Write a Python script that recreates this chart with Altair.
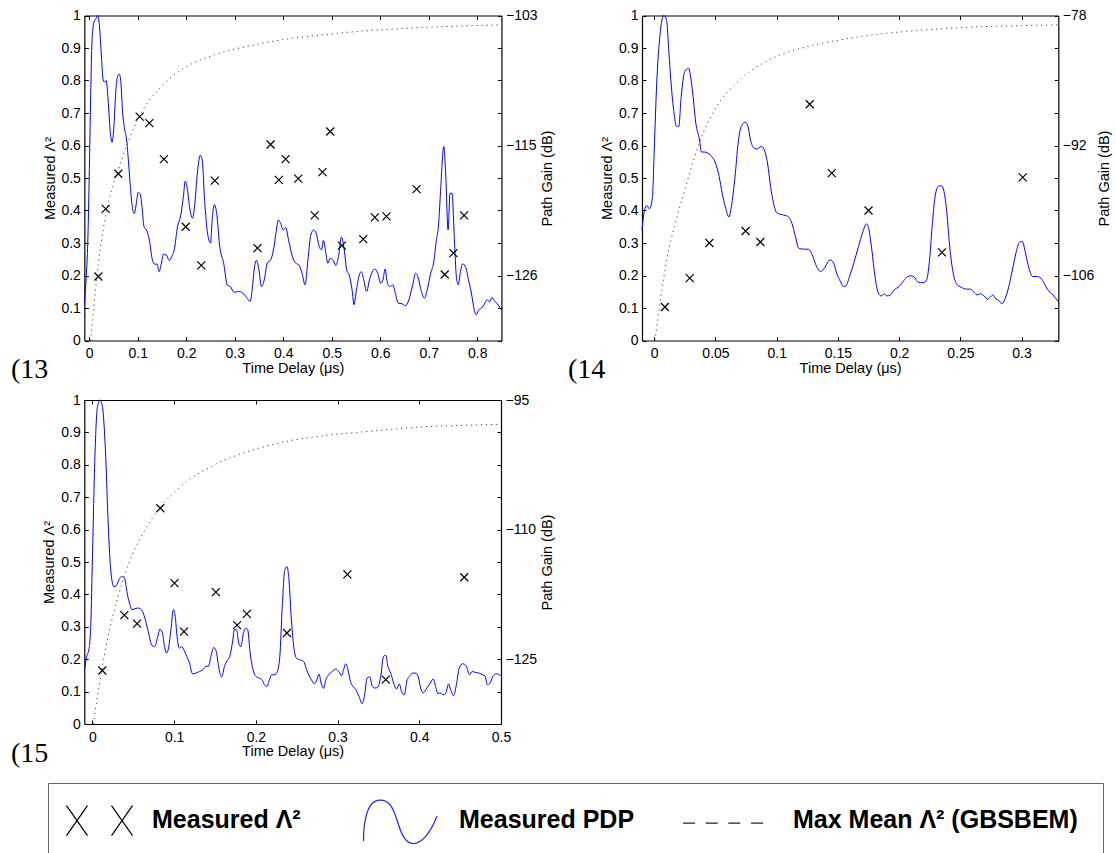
import altair as alt
import pandas as pd

W, H = 1116, 853
FONT = "Liberation Sans"
BLUE = "#0000ff"

# ---------------- data: panel (13) ----------------
p13_pdp_t = [-0.01, -0.006, -0.003, 0.0, 0.003, 0.006, 0.01, 0.014, 0.018, 0.021,
             0.025, 0.028, 0.031, 0.035, 0.039, 0.043, 0.047, 0.051, 0.055, 0.059,
             0.062, 0.065, 0.069, 0.073, 0.077, 0.081, 0.085, 0.089, 0.093, 0.097,
             0.101, 0.105, 0.109, 0.113, 0.118, 0.124, 0.13, 0.135, 0.14, 0.144,
             0.149, 0.153, 0.159, 0.165, 0.17, 0.176, 0.182, 0.188, 0.194, 0.198,
             0.202, 0.207, 0.213, 0.217, 0.223, 0.229, 0.233, 0.238, 0.244, 0.25,
             0.254, 0.258, 0.263, 0.269, 0.277, 0.285, 0.291, 0.299, 0.308, 0.317,
             0.324, 0.332, 0.336, 0.341, 0.345, 0.35, 0.355, 0.361, 0.367, 0.374,
             0.38, 0.385, 0.39, 0.395, 0.4, 0.405, 0.411, 0.419, 0.426, 0.432,
             0.439, 0.445, 0.451, 0.457, 0.463, 0.468, 0.474, 0.479, 0.483, 0.488,
             0.492, 0.497, 0.503, 0.508, 0.514, 0.52, 0.525, 0.531, 0.536, 0.542,
             0.546, 0.551, 0.557, 0.561, 0.566, 0.572, 0.578, 0.583, 0.589, 0.595,
             0.601, 0.606, 0.61, 0.615, 0.62, 0.626, 0.632, 0.637, 0.645, 0.652,
             0.659, 0.667, 0.673, 0.678, 0.684, 0.691, 0.697, 0.704, 0.71, 0.716,
             0.72, 0.725, 0.731, 0.735, 0.74, 0.744, 0.748, 0.753, 0.757, 0.761,
             0.765, 0.77, 0.777, 0.782, 0.788, 0.794, 0.798, 0.803, 0.809, 0.814,
             0.82, 0.826, 0.83, 0.837, 0.843, 0.85]
p13_pdp_v = [0.11, 0.2, 0.3, 0.5, 0.75, 0.93, 0.98, 0.99, 1.0, 0.97,
             0.88, 0.81, 0.795, 0.8, 0.74, 0.65, 0.61, 0.66, 0.77, 0.815,
             0.82, 0.8, 0.7, 0.65, 0.62, 0.55, 0.47, 0.41, 0.39, 0.42,
             0.456, 0.45, 0.41, 0.35, 0.34, 0.31, 0.25, 0.235, 0.235, 0.212,
             0.238, 0.265, 0.263, 0.246, 0.258, 0.284, 0.35, 0.38, 0.44, 0.49,
             0.47, 0.41, 0.376, 0.41, 0.515, 0.57, 0.556, 0.43, 0.33, 0.3,
             0.38, 0.418, 0.39, 0.29, 0.24, 0.17, 0.166, 0.148, 0.151, 0.146,
             0.133, 0.12, 0.156, 0.228, 0.246, 0.217, 0.166, 0.187, 0.238, 0.248,
             0.279, 0.33, 0.371, 0.359, 0.34, 0.348, 0.31, 0.258, 0.238, 0.233,
             0.207, 0.171, 0.248, 0.325, 0.34, 0.33, 0.29, 0.279, 0.308, 0.269,
             0.238, 0.253, 0.248, 0.231, 0.258, 0.318, 0.289, 0.217, 0.202, 0.156,
             0.11, 0.156, 0.202, 0.212, 0.187, 0.151, 0.187, 0.21, 0.22, 0.207,
             0.176, 0.189, 0.22, 0.176, 0.166, 0.171, 0.141, 0.115, 0.113, 0.107,
             0.125, 0.171, 0.207, 0.195, 0.156, 0.13, 0.156, 0.207, 0.238, 0.31,
             0.35, 0.474, 0.597, 0.515, 0.34, 0.453, 0.453, 0.31, 0.197, 0.171,
             0.207, 0.236, 0.222, 0.187, 0.146, 0.094, 0.079, 0.094, 0.1, 0.11,
             0.125, 0.12, 0.132, 0.12, 0.11, 0.094]
p13_x_t = [0.019, 0.034, 0.060, 0.104, 0.124, 0.154, 0.199, 0.231, 0.259, 0.347,
           0.374, 0.391, 0.405, 0.431, 0.465, 0.481, 0.497, 0.521, 0.565, 0.589,
           0.613, 0.675, 0.733, 0.751, 0.773]
p13_x_v = [0.197, 0.405, 0.513, 0.689, 0.669, 0.558, 0.35, 0.231, 0.492, 0.284,
           0.603, 0.494, 0.558, 0.498, 0.385, 0.518, 0.643, 0.292, 0.312, 0.379,
           0.382, 0.466, 0.203, 0.269, 0.385]
p13_max_t = [0.003, 0.019, 0.0375, 0.06, 0.082, 0.111, 0.148, 0.185, 0.258, 0.332,
             0.405, 0.479, 0.553, 0.626, 0.7, 0.773, 0.85]
p13_max_v = [0.0, 0.238, 0.41, 0.525, 0.617, 0.71, 0.78, 0.828, 0.879, 0.907,
             0.927, 0.94, 0.951, 0.958, 0.964, 0.968, 0.971]
p13_xticks = [0, 0.1, 0.2, 0.3, 0.4, 0.5, 0.6, 0.7, 0.8]
p13_rvals = [1.0, 0.6, 0.2]
p13_rlabels = ["\u2212103", "\u2212115", "\u2212126"]

# ---------------- data: panel (14) ----------------
p14_pdp_t = [-0.01, -0.008, -0.006, -0.004, -0.0015, 0.0, 0.002, 0.0043, 0.0078, 0.010,
             0.012, 0.014, 0.0165, 0.018, 0.020, 0.022, 0.025, 0.028, 0.031, 0.034,
             0.037, 0.0385, 0.041, 0.044, 0.047, 0.050, 0.053, 0.0555, 0.058, 0.061,
             0.063, 0.066, 0.0685, 0.071, 0.0743, 0.0766, 0.0786, 0.0815, 0.084, 0.0873,
             0.0896, 0.0925, 0.095, 0.0974, 0.1003, 0.1046, 0.109, 0.1124, 0.1153, 0.118,
             0.122, 0.126, 0.129, 0.132, 0.136, 0.139, 0.1436, 0.1465, 0.149, 0.152,
             0.1546, 0.1566, 0.1595, 0.163, 0.1668, 0.170, 0.1734, 0.1754, 0.1777, 0.1803,
             0.183, 0.1855, 0.188, 0.190, 0.1928, 0.196, 0.200, 0.2038, 0.207, 0.210,
             0.2125, 0.2147, 0.2173, 0.220, 0.2225, 0.2246, 0.227, 0.229, 0.232, 0.2347,
             0.2367, 0.239, 0.2413, 0.2442, 0.247, 0.2506, 0.255, 0.2578, 0.2607, 0.2636,
             0.2665, 0.2694, 0.2723, 0.2743, 0.2766, 0.2789, 0.2815, 0.2838, 0.2867, 0.2896,
             0.2925, 0.2954, 0.2983, 0.3006, 0.3032, 0.306, 0.309, 0.313, 0.3158, 0.3185,
             0.3214, 0.3257, 0.330]
p14_pdp_v = [0.34, 0.40, 0.415, 0.405, 0.44, 0.587, 0.79, 0.925, 1.0, 0.987,
             0.884, 0.78, 0.69, 0.66, 0.658, 0.75, 0.828, 0.838, 0.776, 0.668,
             0.617, 0.58, 0.58, 0.576, 0.566, 0.546, 0.505, 0.453, 0.412, 0.38,
             0.412, 0.505, 0.607, 0.658, 0.672, 0.658, 0.617, 0.592, 0.589, 0.597,
             0.589, 0.546, 0.474, 0.423, 0.392, 0.387, 0.382, 0.361, 0.32, 0.284,
             0.281, 0.281, 0.264, 0.233, 0.212, 0.223, 0.248, 0.238, 0.207, 0.182,
             0.166, 0.168, 0.197, 0.238, 0.289, 0.33, 0.359, 0.34, 0.279, 0.197,
             0.146, 0.137, 0.144, 0.137, 0.14, 0.156, 0.166, 0.184, 0.197, 0.199,
             0.195, 0.182, 0.178, 0.178, 0.187, 0.238, 0.351, 0.433, 0.474, 0.476,
             0.458, 0.392, 0.289, 0.207, 0.174, 0.164, 0.158, 0.158, 0.151, 0.14,
             0.144, 0.137, 0.127, 0.133, 0.14, 0.128, 0.123, 0.113, 0.13, 0.166,
             0.217, 0.269, 0.302, 0.305, 0.269, 0.223, 0.197, 0.197, 0.192, 0.176,
             0.156, 0.14, 0.12]
p14_x_t = [0.0087, 0.029, 0.045, 0.0746, 0.0867, 0.127, 0.145, 0.175, 0.235, 0.301]
p14_x_v = [0.103, 0.192, 0.300, 0.337, 0.303, 0.727, 0.515, 0.400, 0.271, 0.502]
p14_max_t = [0.0006, 0.005, 0.0107, 0.0165, 0.025, 0.0367, 0.051, 0.0685, 0.097, 0.126,
             0.155, 0.184, 0.213, 0.242, 0.271, 0.300, 0.329]
p14_max_v = [0.0, 0.125, 0.258, 0.351, 0.464, 0.607, 0.72, 0.797, 0.869, 0.905,
             0.927, 0.943, 0.953, 0.961, 0.966, 0.969, 0.971]
p14_xticks = [0, 0.05, 0.1, 0.15, 0.2, 0.25, 0.3]
p14_rvals = [1.0, 0.6, 0.2]
p14_rlabels = ["\u221278", "\u221292", "\u2212106"]

# ---------------- data: panel (15) ----------------
p15_pdp_t = [-0.0096, -0.007, -0.0044, -0.002, 0.0, 0.003, 0.0061, 0.0096, 0.0127, 0.0162,
             0.0192, 0.0227, 0.0262, 0.0293, 0.0323, 0.0358, 0.0393, 0.0424, 0.0454, 0.048,
             0.0511, 0.0555, 0.0598, 0.0642, 0.0686, 0.0729, 0.076, 0.0795, 0.0825, 0.0856,
             0.0882, 0.0908, 0.0934, 0.096, 0.0991, 0.1013, 0.1035, 0.1066, 0.1092, 0.1122,
             0.1153, 0.1188, 0.1223, 0.1266, 0.131, 0.1354, 0.1389, 0.1419, 0.145, 0.1485,
             0.1515, 0.155, 0.1581, 0.1616, 0.165, 0.1681, 0.1712, 0.1738, 0.1764, 0.179,
             0.1817, 0.1843, 0.1878, 0.19, 0.193, 0.1965, 0.2, 0.204, 0.2074, 0.2105,
             0.2135, 0.2166, 0.2192, 0.2227, 0.2262, 0.2293, 0.2323, 0.2354, 0.238, 0.2402,
             0.2432, 0.2463, 0.2498, 0.2541, 0.2585, 0.262, 0.2655, 0.269, 0.2716, 0.2747,
             0.2773, 0.2799, 0.283, 0.2856, 0.2891, 0.2934, 0.2978, 0.3013, 0.3048, 0.3074,
             0.31, 0.3127, 0.3153, 0.3188, 0.3223, 0.3262, 0.3301, 0.3328, 0.3362, 0.3393,
             0.3424, 0.3459, 0.3493, 0.3528, 0.3563, 0.359, 0.3616, 0.3651, 0.3686, 0.3721,
             0.3755, 0.3782, 0.3817, 0.3852, 0.3882, 0.3917, 0.3961, 0.3991, 0.4017, 0.4048,
             0.4092, 0.4135, 0.417, 0.42, 0.4227, 0.4262, 0.4288, 0.4323, 0.4358, 0.4384,
             0.4419, 0.4454, 0.4489, 0.4533, 0.4576, 0.4616, 0.4646, 0.469, 0.4734, 0.4769,
             0.4803, 0.4834, 0.4865, 0.49, 0.4943, 0.5]
p15_pdp_v = [0.168, 0.209, 0.229, 0.311, 0.517, 0.825, 0.98, 1.0, 0.969, 0.825,
             0.62, 0.466, 0.424, 0.427, 0.445, 0.455, 0.45, 0.404, 0.373, 0.353,
             0.355, 0.358, 0.353, 0.327, 0.281, 0.242, 0.239, 0.265, 0.293, 0.281,
             0.239, 0.219, 0.239, 0.291, 0.353, 0.332, 0.27, 0.234, 0.239, 0.227,
             0.209, 0.188, 0.155, 0.157, 0.162, 0.168, 0.178, 0.178, 0.209, 0.236,
             0.224, 0.168, 0.145, 0.178, 0.196, 0.209, 0.25, 0.291, 0.291, 0.25,
             0.239, 0.275, 0.296, 0.291, 0.219, 0.168, 0.147, 0.142, 0.137, 0.121,
             0.116, 0.137, 0.152, 0.152, 0.162, 0.209, 0.363, 0.476, 0.486, 0.455,
             0.332, 0.239, 0.203, 0.198, 0.193, 0.168, 0.147, 0.132, 0.124, 0.137,
             0.154, 0.126, 0.11, 0.137, 0.152, 0.162, 0.17, 0.162, 0.149, 0.168,
             0.186, 0.168, 0.135, 0.116, 0.106, 0.085, 0.063, 0.085, 0.142, 0.145,
             0.118, 0.111, 0.114, 0.147, 0.209, 0.212, 0.178, 0.157, 0.126, 0.108,
             0.123, 0.101, 0.09, 0.137, 0.147, 0.157, 0.157, 0.142, 0.111, 0.096,
             0.111, 0.126, 0.139, 0.116, 0.094, 0.096, 0.09, 0.094, 0.124, 0.106,
             0.087, 0.121, 0.173, 0.186, 0.178, 0.152, 0.162, 0.159, 0.157, 0.152,
             0.149, 0.121, 0.126, 0.147, 0.155, 0.149]
p15_x_t = [0.012, 0.039, 0.0546, 0.083, 0.1004, 0.112, 0.151, 0.177, 0.189, 0.238,
           0.312, 0.359, 0.455]
p15_x_v = [0.165, 0.336, 0.31, 0.666, 0.435, 0.285, 0.407, 0.305, 0.34, 0.281,
           0.462, 0.137, 0.453]
p15_max_t = [0.001, 0.0074, 0.0183, 0.0314, 0.0445, 0.062, 0.0838, 0.1057, 0.1493, 0.193,
             0.2367, 0.2803, 0.324, 0.3677, 0.4114, 0.455, 0.4965]
p15_max_v = [0.0, 0.106, 0.26, 0.394, 0.496, 0.589, 0.671, 0.728, 0.8, 0.843,
             0.872, 0.889, 0.9, 0.91, 0.918, 0.922, 0.925]
p15_xticks = [0, 0.1, 0.2, 0.3, 0.4, 0.5]
p15_rvals = [1.0, 0.6, 0.2]
p15_rlabels = ["\u221295", "\u2212110", "\u2212125"]

y_ticks = [0, 0.1, 0.2, 0.3, 0.4, 0.5, 0.6, 0.7, 0.8, 0.9, 1]
panel_tags = ["(13", "(14", "(15"]
legend_names = ["Measured \u039b\u00b2", "Measured PDP", "Max Mean \u039b\u00b2 (GBSBEM)"]
legend_colors = ["#000000", "#2424e0", "#222222"]

# ---------------- styling / layout ----------------
CROSS = "M-1,-1L1,1M-1,1L1,-1"
# invisible zero-length anchors give every legend symbol the same vertical extent
V_ANCHOR = "M0,-2.5L0,-2.5M0,2.5L0,2.5"
LEG_X = (V_ANCHOR + "M-1.85,-1.45L0.25,1.55M0.25,-1.45L-1.85,1.55"
         "M2.65,-1.45L4.75,1.55M4.75,-1.45L2.65,1.55")
LEG_PDP = (V_ANCHOR + "M-4.2,0L-4.2,0"
           "M-2.85,2.1C-2.85,0.5 -2.6,-2.0 -1.2,-2.0C-0.2,-2.0 0.1,-1.2 0.5,0.0"
           "C0.9,1.3 1.3,2.35 2.1,2.35C3.0,2.35 3.9,1.2 4.5,-0.4")
LEG_DASH = (V_ANCHOR + "M-4.3,0.3L-3.1,0.3M-2.03,0.3L-0.83,0.3M0.23,0.3L1.43,0.3"
            "M2.5,0.3L3.7,0.3")

COMMON = dict(grid=False, labelFont=FONT, labelFontSize=14, labelColor="black",
              titleFont=FONT, titleFontSize=14.5, titleFontWeight="normal",
              titleColor="black", domainColor="black", domainWidth=1.2,
              tickColor="black", tickWidth=1, labelFlush=False, labelOverlap=False)


def right_expr(vals, labs):
    expr = "''"
    for v, l in reversed(list(zip(vals, labs))):
        expr = f"abs(datum.value - {v}) < 1e-6 ? '{l}' : ({expr})"
    return expr


def panel(pdp_t, pdp_v, x_t, x_v, max_t, max_v, xdom, xticks, rvals, rlabs, box):
    xl, xr, yt, yb = box
    xs = alt.Scale(domain=xdom, range=[xl, xr], nice=False, zero=False)
    ys = alt.Scale(domain=[0, 1], range=[yb, yt], nice=False, zero=False)

    pdp_df = pd.DataFrame({"t": pdp_t, "v": pdp_v})
    x_df = pd.DataFrame({"t": x_t, "v": x_v})
    max_df = pd.DataFrame({"t": max_t, "v": max_v})

    ax_bottom = alt.Axis(orient="bottom", offset=yb - H, values=xticks, format="~g",
                         ticks=False, tickSize=0, domain=True, labelPadding=17,
                         labelBaseline="alphabetic", title="Time Delay (\u03bcs)",
                         titleY=31.5, titleBaseline="alphabetic", **COMMON)
    ax_left = alt.Axis(orient="left", offset=-xl, values=y_ticks, format="~g",
                       ticks=False, tickSize=0, domain=True, labelPadding=4,
                       title="Measured \u039b\u00b2", titleAngle=270, titleX=-34.35,
                       titleBaseline="middle", titleAlign="center", **COMMON)
    line = alt.Chart(pdp_df).mark_line(color=BLUE, strokeWidth=1, interpolate="monotone").encode(
        x=alt.X("t:Q", scale=xs, axis=ax_bottom),
        y=alt.Y("v:Q", scale=ys, axis=ax_left))

    ax_top = alt.Axis(orient="top", offset=-yt, values=xticks, labels=False, ticks=False,
                      tickSize=0, domain=True, title=None, **COMMON)
    ax_right = alt.Axis(orient="right", offset=xr - W, values=y_ticks,
                        labelExpr=right_expr(rvals, rlabs), ticks=False, tickSize=0,
                        domain=True, labelPadding=4, title="Path Gain (dB)", titleAngle=270,
                        titleX=46.5, titleBaseline="middle", titleAlign="center", **COMMON)
    crosses = alt.Chart(x_df).mark_point(shape=CROSS, size=64, filled=False, color="black",
                                          strokeWidth=1.2, opacity=1).encode(
        x=alt.X("t:Q", scale=xs, axis=ax_top),
        y=alt.Y("v:Q", scale=ys, axis=ax_right))

    ax_top_in = alt.Axis(orient="bottom", offset=yt - H, values=xticks, labels=False,
                         ticks=True, tickSize=4, domain=False, title=None, **COMMON)
    ax_left_in = alt.Axis(orient="right", offset=xl - W, values=y_ticks, labels=False,
                          ticks=True, tickSize=4, domain=False, title=None, **COMMON)
    dotted = alt.Chart(max_df).mark_line(color="#444444", strokeWidth=1, strokeDash=[1.2, 3.8],
                                         interpolate="monotone").encode(
        x=alt.X("t:Q", scale=xs, axis=ax_top_in),
        y=alt.Y("v:Q", scale=ys, axis=ax_left_in))

    ax_bot_in = alt.Axis(orient="top", offset=-yb, values=xticks, labels=False,
                         ticks=True, tickSize=4, domain=False, title=None, **COMMON)
    ax_right_in = alt.Axis(orient="left", offset=-xr, values=y_ticks, labels=False,
                           ticks=True, tickSize=4, domain=False, title=None, **COMMON)
    ghost = alt.Chart(x_df).mark_point(opacity=0).encode(
        x=alt.X("t:Q", scale=xs, axis=ax_bot_in),
        y=alt.Y("v:Q", scale=ys, axis=ax_right_in))

    return [line, dotted, crosses, ghost]


def tag_layer(text, px, py):
    df = pd.DataFrame({"tag": [text]})
    return alt.Chart(df).mark_text(font="Liberation Serif", fontSize=28, align="left",
                                   baseline="alphabetic", color="black").encode(
        text="tag:N", x=alt.value(px), y=alt.value(py))


layers = []
layers += panel(p13_pdp_t, p13_pdp_v, p13_x_t, p13_x_v, p13_max_t, p13_max_v,
                [-0.01, 0.85], p13_xticks, p13_rvals, p13_rlabels, (84.35, 501.45, 15.5, 340.5))
layers += panel(p14_pdp_t, p14_pdp_v, p14_x_t, p14_x_v, p14_max_t, p14_max_v,
                [-0.01, 0.33], p14_xticks, p14_rvals, p14_rlabels, (642.0, 1058.3, 15.5, 340.5))
layers += panel(p15_pdp_t, p15_pdp_v, p15_x_t, p15_x_v, p15_max_t, p15_max_v,
                [-0.01, 0.5], p15_xticks, p15_rvals, p15_rlabels, (84.3, 501.0, 400.0, 724.0))

layers.append(tag_layer(panel_tags[0], 11, 378))
layers.append(tag_layer(panel_tags[1], 568, 378))
layers.append(tag_layer(panel_tags[2], 11, 762))

leg = alt.Legend(title=None, orient="none", legendX=48, legendY=783, direction="horizontal",
                 columns=3, padding=24.5, strokeColor="#666666", fillColor="white",
                 cornerRadius=0, symbolSize=400, symbolStrokeWidth=1.2,
                 symbolFillColor="transparent", symbolOpacity=1,
                 labelFont=FONT, labelFontSize=25, labelFontWeight="bold", labelColor="black",
                 labelOffset=54.5, columnPadding=46, labelLimit=600)
leg_df = pd.DataFrame({"series": legend_names})
legend_layer = alt.Chart(leg_df).mark_point(filled=False, opacity=1, strokeWidth=1.2).encode(
    x=alt.value(-200), y=alt.value(-200),
    color=alt.Color("series:N", scale=alt.Scale(domain=legend_names, range=legend_colors), legend=leg),
    shape=alt.Shape("series:N", scale=alt.Scale(domain=legend_names, range=[LEG_X, LEG_PDP, LEG_DASH]),
                    legend=leg))
layers.append(legend_layer)

chart = alt.layer(*layers).resolve_scale(
    x="independent", y="independent"
).resolve_axis(
    x="independent", y="independent"
).properties(
    width=W, height=H, autosize=alt.AutoSizeParams(type="none"), padding=0, background="white"
).configure_view(strokeWidth=0)

chart.save("out.html", embed_options={"renderer": "svg", "actions": False})
